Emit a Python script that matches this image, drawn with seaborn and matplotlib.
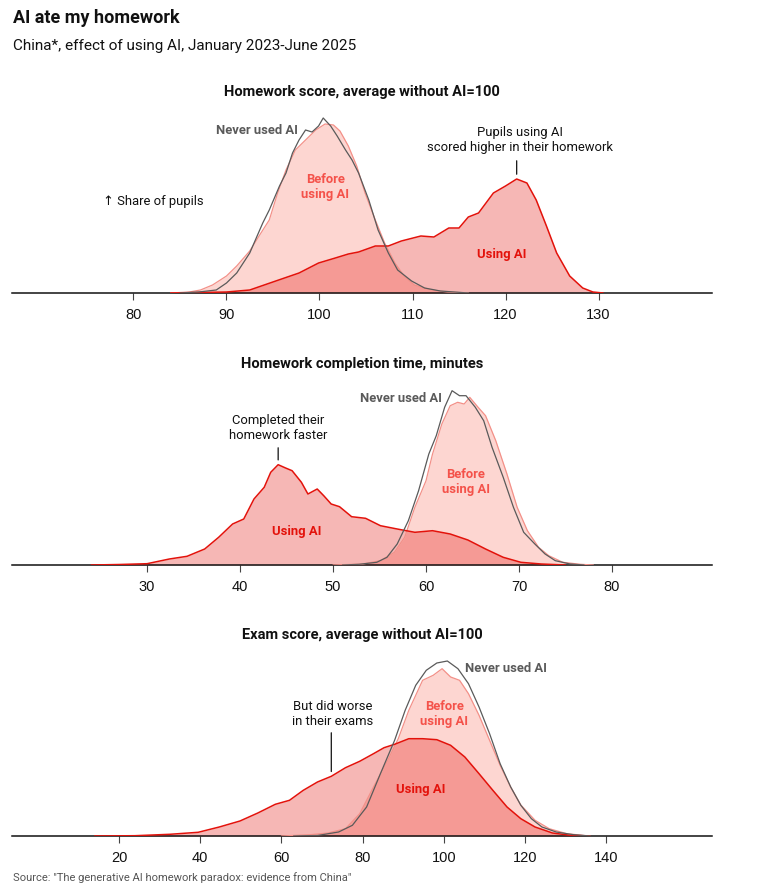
import numpy as np
import matplotlib
matplotlib.use("Agg")
import matplotlib.pyplot as plt
from matplotlib import font_manager
import seaborn as sns

# Couleurs
RED = "#E3120B"
BEFORE_FILL = "#FDD6D1"
BEFORE_LINE = "#F39088"
BEFORE_TEXT = "#F4524A"
GREY = "#5A5A5A"

# --- Données (hauteur = part des élèves, unités arbitraires) ---
# Homework score
hw_x_before = [84, 86, 87.2, 88.5, 90, 91.1, 92.5, 93.5, 94.6, 95.5, 96.4, 97.4, 98.5, 99.6,
               100.6, 101.5, 102.2, 103.1, 104, 104.9, 106, 107, 108.1, 109.1, 110.2, 112, 113.8, 116]
hw_h_before = [0, 1, 3, 8, 17, 27, 42, 57, 73, 100, 123, 143, 153, 163,
               169, 168, 162, 147, 127, 100, 73, 50, 30, 17, 8, 3, 1, 0]
hw_x_never = [85, 87, 88.9, 90, 91.1, 92.5, 93.9, 94.6, 95.7, 96.4, 97.1, 97.8, 98.5, 99.2, 99.9,
              100.4, 101.2, 101.9, 102.8, 103.5, 104.2, 105.3, 106.3, 107.4, 108.4, 109.9, 111.3, 113, 116]
hw_h_never = [0, 1, 3, 10, 20, 40, 70, 83, 107, 120, 140, 153, 163, 161, 167,
              175, 167, 157, 143, 133, 120, 93, 63, 40, 23, 12, 5, 2, 0]
hw_x_using = [84, 87, 90, 92.5, 95.3, 97.8, 99.9, 101.7, 103.1, 104.2, 106, 107.4, 108.8, 110.9, 112.3,
              113.9, 115, 116, 117.1, 118.7, 120, 121.2, 122.3, 123.3, 124.4, 125.5, 126.9, 128.3, 129.4, 130.5]
hw_h_using = [0, 0.5, 1, 3, 12, 20, 30, 35, 39, 41, 47, 47, 52, 57, 56,
              65, 65, 76, 80, 100, 107, 114, 110, 93, 67, 40, 17, 5, 1, 0]

# Homework completion time, minutes
tm_x_using = [24, 27, 30, 32.4, 34.3, 36.2, 37.7, 39.2, 40.4, 41.5, 42.6, 43.3, 44.1, 44.9, 45.6, 46.6, 47.3,
              48.3, 49, 49.8, 50.7, 52, 53.5, 55.1, 56.9, 58.8, 60.7, 62.6, 64.5, 66.4, 68.3, 70.2, 72.4, 75]
tm_h_using = [0, 0.5, 1.3, 6, 8.7, 16, 27.7, 41, 46, 66, 77.7, 92.7, 100.3, 97, 94.3, 82.7, 71,
              76, 69.3, 61, 58.3, 48.3, 46.7, 39.3, 36, 32.7, 34.3, 31, 25, 16, 7.7, 2.7, 1, 0]
tm_x_before = [50, 53.2, 55.1, 56.6, 57.7, 58.8, 60, 60.7, 61.7, 62.6, 63.4, 64.1, 64.7, 65.6,
               66.4, 67.5, 68.7, 69.8, 70.9, 72.1, 73.2, 74.7, 76.6, 78]
tm_h_before = [0, 1, 4.3, 12.7, 27.7, 57.7, 84.3, 111, 141, 159.3, 162.7, 161, 167.7, 157.7,
               149.3, 124.3, 91, 57.7, 34.3, 17.7, 9.3, 2.7, 0.7, 0]
tm_x_never = [51, 52.8, 54.7, 55.8, 56.9, 58.1, 59.2, 60.3, 61.1, 62, 62.8, 63.6, 64.3, 65.3,
              66.2, 67.1, 68.3, 69.4, 70.5, 71.7, 72.8, 73.9, 75.5, 77]
tm_h_never = [0, 0.7, 2.7, 7.7, 21, 44.3, 74.3, 111, 129.3, 157.7, 174.3, 169.3, 169.3, 157.7,
              144.3, 117.7, 87.7, 57.7, 32.7, 21, 11, 4.3, 1, 0]

# Exam score
ex_x_using = [14, 23.9, 32.5, 39.5, 44.7, 49.8, 54.2, 58.5, 62, 65.4, 68.9, 72.3, 75.8, 79.3, 82.7,
              85.3, 87.9, 91.4, 94.8, 98.3, 101.7, 105.2, 108.7, 112.1, 115.6, 119, 122.5, 126.8, 131.2, 136]
ex_h_using = [0, 0.3, 1.7, 3.7, 9, 15, 23, 31.7, 35.7, 45.7, 54, 59.7, 68.3, 74.7, 82.3,
              88.3, 91.7, 97.3, 97.3, 96.3, 90.7, 79, 62.3, 45.7, 29, 17.3, 9, 3, 0.7, 0]
ex_x_before = [60, 67.1, 71.5, 75.8, 79.3, 82.7, 86.2, 88.8, 91.4, 94.8, 97.4, 99.6, 101.7, 103.9,
               106.1, 108.7, 111.3, 113.9, 116.5, 119, 122.5, 126, 130.3, 136]
ex_h_before = [0, 1.3, 3, 7.3, 22.3, 49, 75.7, 97.3, 125.7, 155.7, 160.7, 167.3, 159, 155.7,
               142.3, 120.7, 95.7, 70.7, 49, 31, 15.7, 7.3, 2.3, 0]
ex_x_never = [63, 68.9, 74.1, 77.5, 81, 84.4, 87.9, 90.5, 93.1, 95.7, 98.3, 100.9, 103.5, 106.1,
              108.7, 111.3, 113.9, 116.5, 119, 121.6, 124.2, 127.7, 132, 136]
ex_h_never = [0, 0.5, 4, 10.7, 29, 62.3, 95.7, 125.7, 150.7, 165.7, 173, 175, 167.3, 152.3,
              129, 102.3, 72.3, 49, 30.7, 17.3, 9, 4, 1.3, 0]

hw_ticks = [80, 90, 100, 110, 120, 130]
tm_ticks = [30, 40, 50, 60, 70, 80]
ex_ticks = [20, 40, 60, 80, 100, 120, 140]

# --- Style ---
sns.set_theme(style="white")
installed = {f.name for f in font_manager.fontManager.ttflist}
NARROW = "Liberation Sans Narrow" if "Liberation Sans Narrow" in installed else "Roboto"
plt.rcParams["font.family"] = [NARROW, "DejaVu Sans"]
TICKFONT = "Liberation Sans" if "Liberation Sans" in installed else "DejaVu Sans"

W, H = 762, 884
fig = plt.figure(figsize=(W / 100, H / 100), dpi=100)
fig.patch.set_facecolor("white")


def fx(px):
    return px / W


def fy(py):
    return 1 - py / H


def panel(baseline_px, xlim, ticks, title, before, never, using):
    ax = fig.add_axes([fx(12), fy(baseline_px), fx(700), 180 / H])
    ax.set_facecolor("none")
    bx, bh = before
    nx, nh = never
    ux, uh = using
    ax.fill_between(bx, bh, 0, color=BEFORE_FILL, lw=0, zorder=1)
    ax.fill_between(ux, uh, 0, color=RED, alpha=0.3, lw=0, zorder=2)
    sns.lineplot(x=bx, y=bh, ax=ax, color=BEFORE_LINE, linewidth=0.9, zorder=3)
    sns.lineplot(x=ux, y=uh, ax=ax, color=RED, linewidth=1.1, zorder=4)
    sns.lineplot(x=nx, y=nh, ax=ax, color=GREY, linewidth=0.9, zorder=5)
    ax.set_xlim(*xlim)
    ax.set_ylim(0, 180)
    ax.set_yticks([])
    ax.set_xticks(ticks)
    ax.set_xlabel("")
    ax.set_ylabel("")
    for s in ["top", "left", "right"]:
        ax.spines[s].set_visible(False)
    ax.spines["bottom"].set_color("#111111")
    ax.spines["bottom"].set_linewidth(1.1)
    ax.tick_params(axis="x", direction="out", length=5, width=0.8, color="#444444",
                   labelsize=10.5, pad=6, labelcolor="#111111", bottom=True)
    for lbl in ax.get_xticklabels():
        lbl.set_fontfamily(TICKFONT)
    fig.text(fx(362), fy(baseline_px - 201), title, ha="center", va="center",
             fontsize=10.5, fontweight="bold", color="#111111")
    return ax


def label(ax, x, y, s, color, ha="center", weight="bold"):
    ax.text(x, y, s, ha=ha, va="center", fontsize=9.4, fontweight=weight, color=color,
            linespacing=1.2, zorder=10)


def leader(ax, xs, hs, x, y_top, gap=2):
    y_curve = np.interp(x, xs, hs)
    ax.annotate("", xy=(x, y_curve + gap), xytext=(x, y_top),
                arrowprops=dict(arrowstyle="-", lw=0.9, color="#111111"))


# Titre
fig.text(fx(13), fy(18), "AI ate my homework", ha="left", va="center",
         fontsize=13, fontweight="bold", color="#111111")
fig.text(fx(13), fy(46), "China*, effect of using AI, January 2023-June 2025", ha="left",
         va="center", fontsize=11, color="#111111")

# Panneau 1
ax1 = panel(293, (66.94, 142.2), hw_ticks, "Homework score, average without AI=100",
            (hw_x_before, hw_h_before), (hw_x_never, hw_h_never), (hw_x_using, hw_h_using))
label(ax1, 97.7, 163, "Never used AI", GREY, ha="right")
label(ax1, 100.6, 106, "Before\nusing AI", BEFORE_TEXT)
label(ax1, 119.6, 38, "Using AI", RED)
label(ax1, 76.7, 91, "\u2191 Share of pupils", "#111111", ha="left", weight="normal")
peak1 = hw_x_using[int(np.argmax(hw_h_using))]
label(ax1, peak1 + 0.4, 153, "Pupils using AI\nscored higher in their homework", "#111111",
      weight="normal")
leader(ax1, hw_x_using, hw_h_using, peak1, 135)

# Panneau 2
ax2 = panel(565, (15.48, 90.75), tm_ticks, "Homework completion time, minutes",
            (tm_x_before, tm_h_before), (tm_x_never, tm_h_never), (tm_x_using, tm_h_using))
label(ax2, 61.7, 167, "Never used AI", GREY, ha="right")
label(ax2, 64.3, 83, "Before\nusing AI", BEFORE_TEXT)
label(ax2, 46.1, 34, "Using AI", RED)
peak2 = tm_x_using[int(np.argmax(tm_h_using))]
label(ax2, peak2, 137, "Completed their\nhomework faster", "#111111", weight="normal")
leader(ax2, tm_x_using, tm_h_using, peak2, 120)

# Panneau 3
ax3 = panel(836, (-6.37, 166.1), ex_ticks, "Exam score, average without AI=100",
            (ex_x_before, ex_h_before), (ex_x_never, ex_h_never), (ex_x_using, ex_h_using))
label(ax3, 105.3, 168, "Never used AI", GREY, ha="left")
label(ax3, 100.1, 122, "Before\nusing AI", BEFORE_TEXT)
label(ax3, 94.4, 46, "Using AI", RED)
label(ax3, 72.7, 122, "But did worse\nin their exams", "#111111", weight="normal")
leader(ax3, ex_x_using, ex_h_using, 72.3, 106)

# Source
fig.text(fx(13), fy(883), 'Source: "The generative AI homework paradox: evidence from China"',
         ha="left", va="bottom", fontsize=8, color="#555555")

fig.savefig("out.png", dpi=100, facecolor="white")
